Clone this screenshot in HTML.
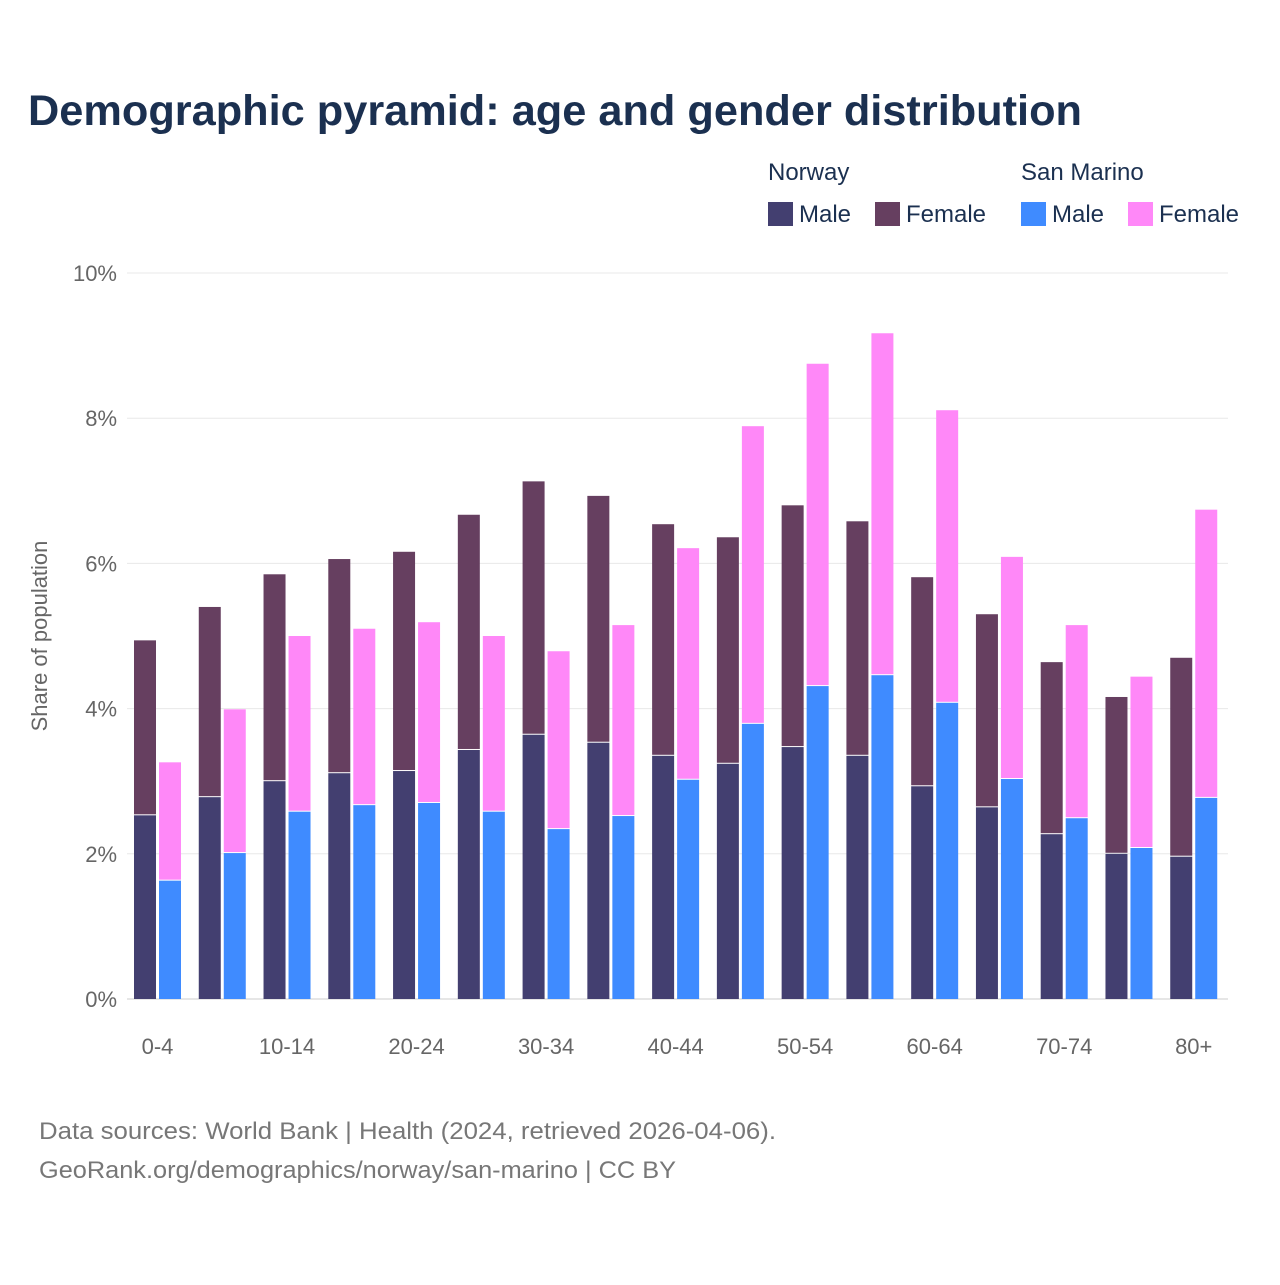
<!DOCTYPE html>
<html><head><meta charset="utf-8"><style>
body{margin:0;background:#fff;width:1280px;height:1280px;overflow:hidden;font-family:"Liberation Sans",sans-serif}
</style></head><body>
<svg id="chart" width="1280" height="1280" xmlns="http://www.w3.org/2000/svg" font-family="Liberation Sans, sans-serif">
<text x="28" y="125" font-size="43" font-weight="bold" fill="#1b3050" textLength="1054" lengthAdjust="spacingAndGlyphs">Demographic pyramid: age and gender distribution</text>
<g font-size="24" fill="#1b3050">
<text x="768" y="180">Norway</text>
<text x="1021" y="180">San Marino</text>
<rect x="768" y="202" width="25" height="24" fill="#433f70"/>
<text x="799" y="222">Male</text>
<rect x="875" y="202" width="25" height="24" fill="#663f60"/>
<text x="906" y="222">Female</text>
<rect x="1021" y="202" width="25" height="24" fill="#3f8bff"/>
<text x="1052" y="222">Male</text>
<rect x="1128" y="202" width="25" height="24" fill="#ff88f8"/>
<text x="1159" y="222">Female</text>
</g>
<text transform="translate(51,636) rotate(-90)" text-anchor="middle" font-size="22" fill="#666" dx="0" dy="0" x="0" y="-4">Share of population</text>
<g id="grid"></g><g id="bars"></g><g id="xlabels"></g>
<text x="39" y="1139" font-size="24" fill="#777" textLength="737" lengthAdjust="spacingAndGlyphs">Data sources: World Bank | Health (2024, retrieved 2026-04-06).</text>
<text x="39" y="1178" font-size="24" fill="#777" textLength="637" lengthAdjust="spacingAndGlyphs">GeoRank.org/demographics/norway/san-marino | CC BY</text>
</svg>
<script>
const categories=["0-4","5-9","10-14","15-19","20-24","25-29","30-34","35-39","40-44","45-49","50-54","55-59","60-64","65-69","70-74","75-79","80+"];
const norwayMale=[2.53,2.78,3.00,3.11,3.14,3.43,3.64,3.53,3.35,3.24,3.47,3.35,2.93,2.64,2.27,2.00,1.96];
const norwayFemale=[2.41,2.62,2.85,2.95,3.02,3.24,3.49,3.40,3.19,3.12,3.33,3.23,2.88,2.66,2.37,2.16,2.74];
const smMale=[1.63,2.01,2.58,2.67,2.70,2.58,2.34,2.52,3.02,3.79,4.31,4.46,4.08,3.03,2.49,2.08,2.77];
const smFemale=[1.63,1.98,2.42,2.43,2.49,2.42,2.45,2.63,3.19,4.10,4.44,4.71,4.03,3.06,2.66,2.36,3.97];
const yTicks=[0,2,4,6,8,10];
const NS="http://www.w3.org/2000/svg";
const X0=127,X1=1228,Y0=999,PX=72.6;
const gw=(X1-X0)/categories.length;
const y=v=>Y0-v*PX;
function mk(t,a,p){const e=document.createElementNS(NS,t);for(const k in a)e.setAttribute(k,a[k]);p.appendChild(e);return e;}
const grid=document.getElementById('grid');
yTicks.forEach(t=>{
 const l=mk('line',{x1:X0,x2:X1,y1:y(t),y2:y(t),stroke:t===0?'#ccc':'#e8e8e8','stroke-width':1},grid);
 
 
 const tx=mk('text',{x:117,y:y(t)+8,'text-anchor':'end','font-size':22,fill:'#666'},grid);
 tx.textContent=t+'%';
 
 
});
const bars=document.getElementById('bars'),xl=document.getElementById('xlabels');
categories.forEach((c,i)=>{
 const gx=X0+i*gw+7;
 [[gx,norwayMale[i],norwayFemale[i],'#433f70','#663f60','norway'],[gx+25,smMale[i],smFemale[i],'#3f8bff','#ff88f8','san-marino']].forEach(([bx,m,f,cm,cf,n])=>{
  const r1=mk('rect',{x:bx,y:y(m),width:22,height:m*PX,fill:cm},bars);
  
  
  const r2=mk('rect',{x:bx,y:y(m+f),width:22,height:f*PX-1,fill:cf},bars);
  
  
 });
 if(i%2===0){
  const t=mk('text',{x:gx+23.5,y:1054,'text-anchor':'middle','font-size':22,fill:'#666'},xl);
  t.textContent=c;
  
  
 }
});
</script>
</body></html>
